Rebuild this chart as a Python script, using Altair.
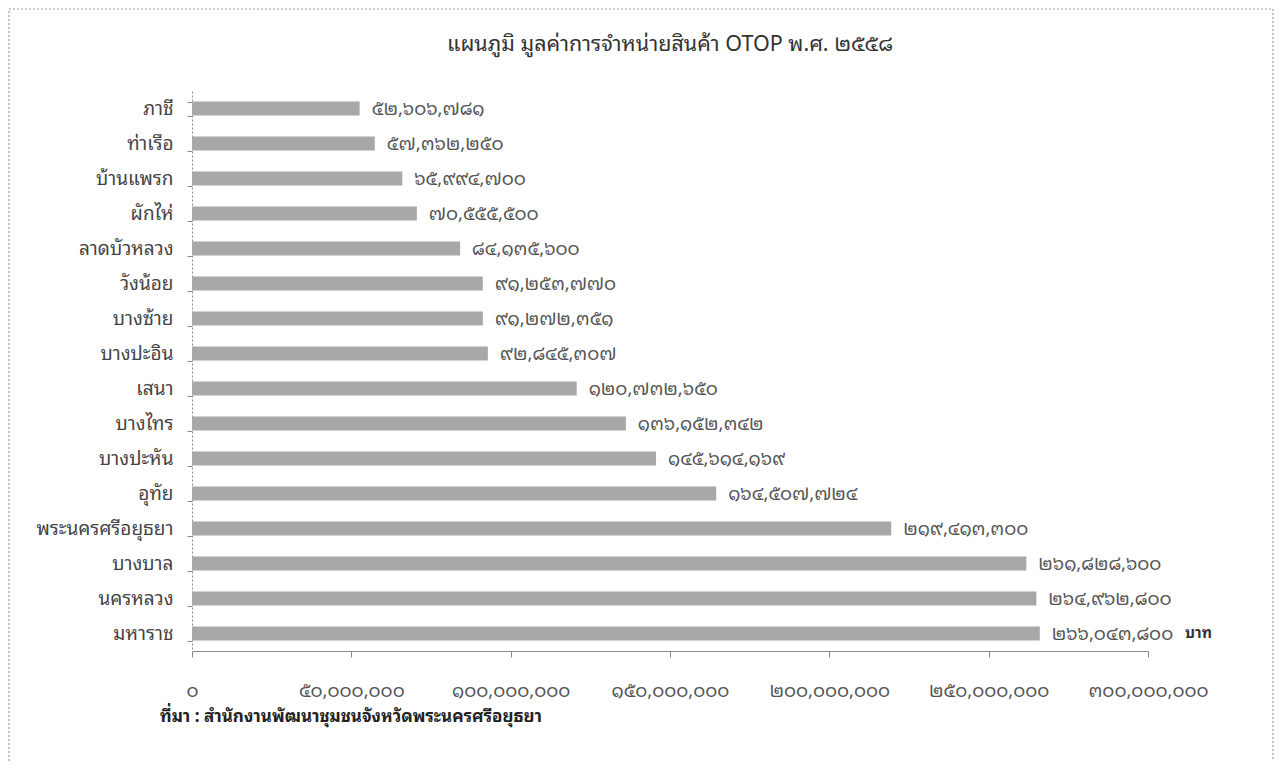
import altair as alt
import pandas as pd

districts = ["ภาชี", "ท่าเรือ", "บ้านแพรก", "ผักไห่", "ลาดบัวหลวง", "วังน้อย", "บางซ้าย",
             "บางปะอิน", "เสนา", "บางไทร", "บางปะหัน", "อุทัย", "พระนครศรีอยุธยา",
             "บางบาล", "นครหลวง", "มหาราช"]
values = [52606781, 57362250, 65994700, 70555500, 84135600, 91253770, 91272351,
          92845307, 120732650, 136152342, 145614169, 164507724, 219413300,
          261828600, 264962800, 266043800]
tick_values = [0, 50000000, 100000000, 150000000, 200000000, 250000000, 300000000]

title_text = "แผนภูมิ มูลค่าการจำหน่ายสินค้า OTOP พ.ศ. ๒๕๕๘"
source_text = "ที่มา : สำนักงานพัฒนาชุมชนจังหวัดพระนครศรีอยุธยา"
unit_text = "บาท"

thai = str.maketrans("0123456789", "๐๑๒๓๔๕๖๗๘๙")
labels = [f"{v:,}".translate(thai) for v in values]
df = pd.DataFrame({"district": districts, "value": values, "label": labels})

FONT = "Tahoma, 'Noto Sans Thai Looped', Loma, Garuda, 'Noto Sans Thai', sans-serif"

digits_expr = "format(datum.value, ',')"
for d, t in zip("0123456789", "๐๑๒๓๔๕๖๗๘๙"):
    digits_expr = f"replace({digits_expr}, regexp('{d}','g'), '{t}')"

W, H = 956, 560

x = alt.X("value:Q",
          scale=alt.Scale(domain=[0, 300000000], nice=False),
          axis=alt.Axis(values=tick_values, labelExpr=digits_expr, title=None,
                        grid=False, domainColor="#8a8a8a", tickColor="#8a8a8a", tickSize=6,
                        labelPadding=24, labelFontSize=18.5, labelColor="#555", labelFont=FONT,
                        labelFlush=False, labelOverlap=False, labelBound=False))
y = alt.Y("district:N", sort=districts,
          scale=alt.Scale(paddingInner=0.6, paddingOuter=0.3),
          axis=alt.Axis(title=None, tickBand="extent", domainDash=[2, 2], domainColor="#8a8a8a",
                        tickColor="#8a8a8a", tickSize=5, labelPadding=14, labelFontSize=19,
                        labelColor="#444", labelFont=FONT))

bars = alt.Chart(df).mark_bar(color="#a8a8a8").encode(x=x, y=y)
texts = alt.Chart(df).mark_text(align="left", dx=12, fontSize=18.5, color="#555", font=FONT).encode(
    x="value:Q", y=alt.Y("district:N", sort=districts), text="label:N")

frame = alt.Chart(pd.DataFrame({"a": [0]})).mark_rect(
    fillOpacity=0, stroke="#9a9a9a", strokeDash=[2, 2], strokeWidth=1.2).encode(
    x=alt.value(-183), x2=alt.value(1081), y=alt.value(-82), y2=alt.value(720))

title = alt.Chart(pd.DataFrame({"t": [title_text]})).mark_text(
    align="center", baseline="middle", fontSize=21.5, color="#333", font=FONT).encode(
    x=alt.value(W / 2), y=alt.value(-46), text="t:N")

source = alt.Chart(pd.DataFrame({"t": [source_text]})).mark_text(
    align="left", baseline="middle", fontSize=17, fontWeight="bold", color="#222", font=FONT).encode(
    x=alt.value(-32), y=alt.value(626), text="t:N")

unit = alt.Chart(pd.DataFrame({"t": [unit_text]})).mark_text(
    align="left", baseline="middle", fontSize=15, fontWeight="bold", color="#333", font=FONT).encode(
    x=alt.value(993), y=alt.value(542), text="t:N")

chart = alt.layer(frame, bars, texts, title, source, unit).properties(
    width=W, height=H,
    autosize=alt.AutoSizeParams(type="none"),
    padding={"left": 184, "top": 83, "right": 126, "bottom": 110},
).configure_view(stroke=None)

chart.save("out.html", embed_options={"renderer": "svg", "actions": False})
